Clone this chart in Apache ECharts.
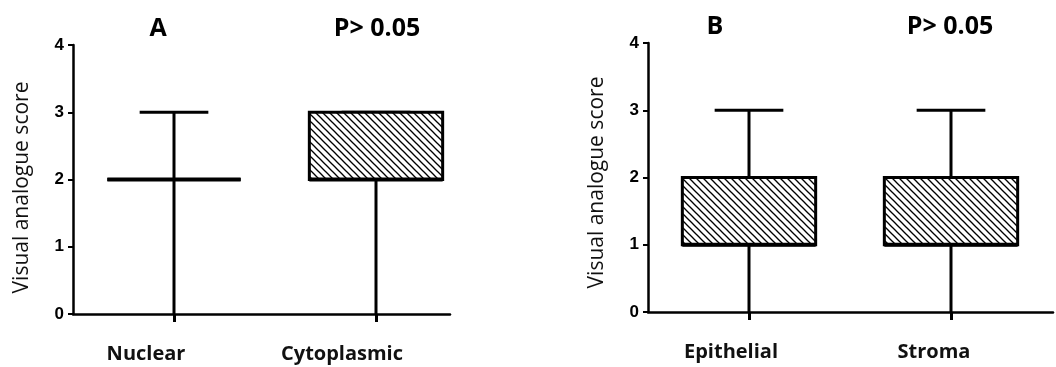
<!DOCTYPE html>
<html>
<head>
<meta charset="utf-8">
<script src="https://cdn.jsdelivr.net/npm/echarts@6/dist/echarts.min.js"></script>
<style>
html,body{margin:0;padding:0;background:#fff;}
#chart{width:1056px;height:367px;}
</style>
</head>
<body>
<div id="chart"></div>
<script>
// ---- data ----
const categoriesA = ['Nuclear', 'Cytoplasmic'];
const categoriesB = ['Epithelial', 'Stroma'];
// [min, Q1, median, Q3, max]
const statsA = [[0, 2, 2, 2, 3], [0, 2, 2, 3, 3]];
const statsB = [[0, 1, 1, 2, 3], [0, 1, 1, 2, 3]];
const panelLabels = ['A', 'B'];
const pText = 'P> 0.05';
const yAxisName = 'Visual analogue score';
const yMin = 0, yMax = 4, yStep = 1;

// ---- styling (not data) ----
const labelShiftA = [28, 34];
const labelShiftB = [18, 17];
const axisW = 2.5;

const hatch = document.createElement('canvas');
hatch.width = 7; hatch.height = 7;
(function () {
  const c = hatch.getContext('2d');
  c.fillStyle = '#fff'; c.fillRect(0, 0, 7, 7);
  c.strokeStyle = '#000'; c.lineWidth = 1.3;
  for (let k = -1; k <= 1; k++) {
    c.beginPath(); c.moveTo(k * 7 - 1, -1); c.lineTo(k * 7 + 8, 8); c.stroke();
  }
})();

function toData(stats) { return stats.map((s, i) => [i + 1].concat(s)); }

function renderBox(params, api) {
  const x = api.value(0);
  const mn = api.value(1), q1 = api.value(2), med = api.value(3), q3 = api.value(4), mx = api.value(5);
  const unit = api.size([1, 0])[0];
  const boxW = unit * 0.66, capW = unit * 0.34;
  const pMax = api.coord([x, mx]), pQ3 = api.coord([x, q3]), pMed = api.coord([x, med]);
  const pQ1 = api.coord([x, q1]), pMin = api.coord([x, mn]);
  const cx = pMed[0];
  const ls = { stroke: '#000', lineWidth: 3, lineCap: 'butt' };
  const children = [
    { type: 'line', shape: { x1: cx, y1: pQ3[1], x2: cx, y2: pMax[1] }, style: ls },
    { type: 'line', shape: { x1: cx - capW / 2, y1: pMax[1], x2: cx + capW / 2, y2: pMax[1] }, style: ls },
    { type: 'line', shape: { x1: cx, y1: pQ1[1], x2: cx, y2: pMin[1] }, style: ls }
  ];
  // lower cap only when it is not hidden by the x axis line
  if (mn > yMin) {
    children.push({ type: 'line', shape: { x1: cx - capW / 2, y1: pMin[1], x2: cx + capW / 2, y2: pMin[1] }, style: ls });
  }
  children.push(
    { type: 'rect', shape: { x: cx - boxW / 2, y: pQ3[1], width: boxW, height: pQ1[1] - pQ3[1] },
      style: { fill: { image: hatch, repeat: 'repeat' }, stroke: '#000', lineWidth: 3 } },
    { type: 'line', shape: { x1: cx - boxW / 2, y1: pMed[1], x2: cx + boxW / 2, y2: pMed[1] },
      style: { stroke: '#000', lineWidth: 4 } }
  );
  return { type: 'group', children };
}

function makeX(gridIndex, cats, shifts, max) {
  const rich = {};
  shifts.forEach((s, i) => { rich['l' + i] = { padding: [0, s * 2, 0, 0] }; });
  return {
    type: 'value', gridIndex, min: 0.5, max,
    axisLine: { show: true, onZero: false, lineStyle: { color: '#000', width: axisW } },
    axisTick: { show: true, customValues: [1, 2], length: 8, lineStyle: { color: '#000', width: 3 } },
    axisLabel: {
      customValues: [1, 2], margin: 30,
      fontFamily: 'Open Sans', fontWeight: 'bold', fontSize: 20, color: '#111',
      formatter: (v) => { const i = Math.round(v) - 1; return '{l' + i + '|' + cats[i] + '}'; },
      rich
    },
    splitLine: { show: false }
  };
}

function makeY(gridIndex, shiftDown) {
  return {
    type: 'value', gridIndex, min: yMin, max: yMax, interval: yStep,
    name: yAxisName, nameLocation: 'middle', nameGap: 40, nameRotate: 90,
    nameTextStyle: { fontFamily: 'Open Sans', fontSize: 21, color: '#111', padding: [0, shiftDown * 2, 0, 0] },
    axisLine: { show: true, onZero: false, lineStyle: { color: '#000', width: axisW } },
    axisTick: { show: true, length: 5, lineStyle: { color: '#000', width: 2 } },
    axisLabel: { margin: 9, fontFamily: 'Liberation Sans', fontWeight: 'bold', fontSize: 17, color: '#000' },
    splitLine: { show: false }
  };
}

const titleStyle = { fontFamily: 'Open Sans', fontWeight: 'bold', fontSize: 25, color: '#000' };

const chart = echarts.init(document.getElementById('chart'), null, { renderer: 'canvas' });
chart.setOption({
  backgroundColor: '#fff',
  animation: false,
  title: [
    { text: panelLabels[0], left: 153, top: 11, textAlign: 'center', textStyle: titleStyle },
    { text: pText, left: 372, top: 11, textAlign: 'center', textStyle: titleStyle },
    { text: panelLabels[1], left: 710, top: 9, textAlign: 'center', textStyle: titleStyle },
    { text: pText, left: 945, top: 9, textAlign: 'center', textStyle: titleStyle }
  ],
  grid: [
    { left: 73, top: 45, width: 377, height: 269 },
    { left: 648, top: 43, width: 405, height: 269 }
  ],
  xAxis: [
    makeX(0, categoriesA, labelShiftA, 0.5 + 377 / 202),
    makeX(1, categoriesB, labelShiftB, 0.5 + 405 / 202)
  ],
  yAxis: [makeY(0, 8), makeY(1, 5)],
  series: [
    { type: 'custom', xAxisIndex: 0, yAxisIndex: 0, renderItem: renderBox,
      encode: { x: 0, y: [1, 2, 3, 4, 5] }, data: toData(statsA) },
    { type: 'custom', xAxisIndex: 1, yAxisIndex: 1, renderItem: renderBox,
      encode: { x: 0, y: [1, 2, 3, 4, 5] }, data: toData(statsB) }
  ]
});
</script>
</body>
</html>
